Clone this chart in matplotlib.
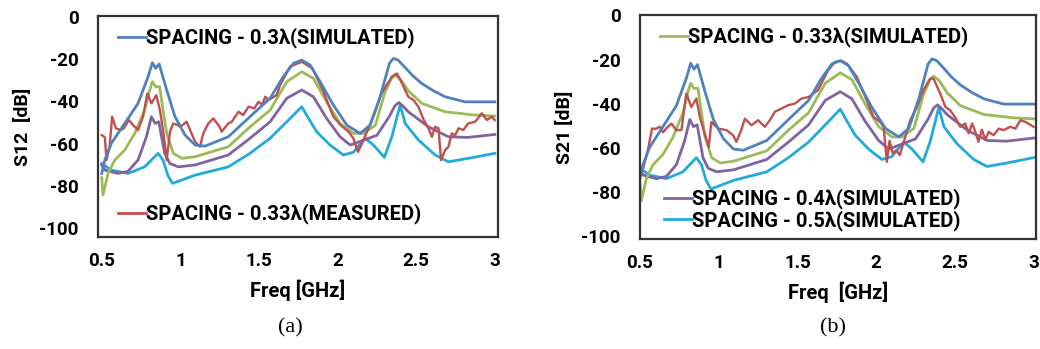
import numpy as np
import matplotlib.pyplot as plt
from matplotlib.lines import Line2D

plt.rcParams['font.family'] = ['Roboto', 'DejaVu Sans']
plt.rcParams['font.weight'] = 'bold'
plt.rcParams['axes.unicode_minus'] = False

# simulated curves (same in both panels)
f_03 = [0.50, 0.519, 0.561, 0.646, 0.731, 0.795, 0.822, 0.843, 0.865, 0.913, 0.966, 1.03, 1.094, 1.157,
        1.305, 1.443, 1.571, 1.655, 1.719, 1.772, 1.825, 1.889, 1.973, 2.059, 2.143, 2.207, 2.27, 2.33,
        2.355, 2.385, 2.43, 2.48, 2.535, 2.61, 2.684, 2.81, 3.0]
s_03 = [-74, -67.7, -59.8, -50.4, -40.9, -28.3, -21.7, -24.4, -22.3, -34.6, -47.2, -55.9, -60.6, -61.1,
        -56.7, -47.2, -38.5, -28.3, -22, -20.5, -22.8, -30.7, -41.7, -51.2, -55.1, -51.2, -38, -22,
        -19.7, -20.5, -24, -28, -31.5, -35, -37.8, -40.2, -40.2]

f_033 = [0.50, 0.508, 0.54, 0.583, 0.646, 0.71, 0.773, 0.805, 0.822, 0.843, 0.868, 0.89, 0.913, 0.955,
         1.01, 1.094, 1.305, 1.443, 1.571, 1.677, 1.772, 1.846, 1.93, 2.016, 2.10, 2.165, 2.24, 2.30,
         2.34, 2.365, 2.40, 2.45, 2.535, 2.684, 2.87, 3.0]
s_033 = [-76, -84.2, -74, -67.7, -63, -55.1, -44.1, -34.6, -30.7, -33.1, -33, -44.1, -55, -64.5,
         -66.9, -66.1, -61.4, -52, -44.1, -30.7, -26, -29.1, -40.2, -50.4, -55.1, -55.1, -51.2, -36,
         -29.5, -27.5, -29.5, -35, -40.9, -44.9, -46.4, -46.9]

f_04 = [0.50, 0.52, 0.604, 0.667, 0.731, 0.784, 0.816, 0.84, 0.863, 0.90, 0.933, 0.987, 1.094, 1.305,
        1.443, 1.571, 1.677, 1.772, 1.846, 1.93, 2.016, 2.08, 2.165, 2.25, 2.33, 2.365, 2.39, 2.42,
        2.45, 2.578, 2.705, 2.83, 3.0]
s_04 = [-70, -72.4, -74, -73, -67.7, -56.7, -47.2, -50.4, -49.6, -64.5, -69.3, -70.9, -70, -65.3,
        -57.4, -49.6, -38.5, -34.6, -37.8, -48, -56.7, -60.6, -58.3, -56, -47, -42, -40.5, -42.5,
        -44.9, -52, -56.7, -57, -55.6]

f_05 = [0.50, 0.561, 0.667, 0.773, 0.858, 0.89, 0.92, 0.95, 1.01, 1.094, 1.305, 1.443, 1.571, 1.677,
        1.772, 1.815, 1.867, 1.952, 2.037, 2.10, 2.175, 2.228, 2.298, 2.345, 2.398, 2.43, 2.514, 2.62,
        2.705, 2.83, 3.0]
s_05 = [-69.3, -72.4, -74, -70.9, -64.5, -67.7, -74.8, -78.7, -77.1, -74.8, -70.9, -64.5, -57.4, -49.6,
        -42.5, -48, -54.3, -60.6, -65.3, -64, -57.4, -60.6, -66.4, -56.7, -41.7, -50.4, -58.2, -65.3,
        -68.5, -66.9, -64.5]

# measured 0.33 lambda, S12
f_meas_a = [0.50, 0.52, 0.53, 0.55, 0.566, 0.59, 0.62, 0.64, 0.672, 0.70, 0.731, 0.763, 0.79, 0.816,
            0.847, 0.87, 0.89, 0.913, 0.934, 0.955, 0.977, 1.0, 1.04, 1.062, 1.08, 1.094, 1.125, 1.146,
            1.178, 1.21, 1.25, 1.263, 1.305, 1.327, 1.37, 1.40, 1.433, 1.47, 1.497, 1.52, 1.54, 1.56,
            1.613, 1.634, 1.698, 1.772, 1.84, 1.91, 1.973, 2.02, 2.07, 2.10, 2.13, 2.16, 2.218,
            2.28, 2.345, 2.377, 2.41, 2.45, 2.483, 2.514, 2.546, 2.578, 2.60, 2.62, 2.642, 2.658,
            2.684, 2.705, 2.726, 2.748, 2.77, 2.80, 2.83, 2.875, 2.917, 2.95, 2.98, 3.0]
s_meas_a = [-55.9, -57, -67.7, -61.4, -47.2, -52.7, -53.5, -52.8, -48.8, -51.2, -53.5, -47.2, -36.2, -40.9,
            -37, -44.1, -53.5, -67.7, -54.3, -50.4, -51, -52, -49.6, -53.5, -56.7, -59, -61.4, -55.1,
            -50.4, -48, -52, -54.3, -50.4, -49.6, -44.9, -46.4, -42.5, -43.3, -40.2, -41.7, -37.8, -39.4,
            -37, -32.3, -23.6, -21.3, -24.4, -35.4, -47.2, -51.2, -54.3, -57.4, -63.8, -59, -48.8,
            -36.2, -28.3, -26.8, -31.5, -37.8, -39.4, -42.5, -48.4, -52.7, -56.7, -52, -52.7, -67.7,
            -63, -61.4, -55.1, -55.9, -52.7, -53.5, -50.4, -49.6, -45.6, -48.8, -47.2, -48.8]

# measured 0.33 lambda, S21
f_meas_b = [0.50, 0.52, 0.55, 0.576, 0.60, 0.625, 0.646, 0.667, 0.70, 0.73, 0.763, 0.794, 0.826, 0.858,
            0.88, 0.91, 0.937, 0.953, 0.996, 1.049, 1.091, 1.112, 1.143, 1.166, 1.208, 1.25, 1.293, 1.325,
            1.356, 1.40, 1.44, 1.483, 1.525, 1.57, 1.63, 1.695, 1.738, 1.78, 1.814, 1.878, 1.94, 1.983,
            2.026, 2.047, 2.068, 2.085, 2.106, 2.127, 2.15, 2.185, 2.216, 2.26, 2.30, 2.343, 2.364, 2.407,
            2.44, 2.47, 2.50, 2.534, 2.566, 2.587, 2.61, 2.63, 2.65, 2.672, 2.693, 2.715, 2.746, 2.78,
            2.81, 2.852, 2.885, 2.916, 2.95, 3.0]
s_meas_b = [-70, -69.4, -61, -51.3, -51.4, -50.5, -53, -51.2, -49, -52, -52, -35.4, -41.5, -37.7,
            -46, -53.5, -59.6, -48.3, -51.3, -52, -54.3, -57.3, -52, -46.8, -49.8, -47.5, -50.5, -47.5,
            -43.7, -42.2, -40.7, -40, -37.7, -37, -33.9, -24.9, -21.1, -20.5, -21.9, -27.9, -38.5, -46,
            -48.3, -50.5, -66.4, -56.8, -62.6, -61.1, -63.3, -55.1, -47.5, -41.5, -33.9, -28.6, -28.6, -35.4,
            -41.5, -43, -46, -50.5, -49, -53.5, -49, -52.8, -57.3, -51.8, -56.3, -52.8, -54.3, -51.3,
            -52, -50.5, -51.3, -47.5, -48.3, -50.5]

c_03 = '#4F81BD'
c_meas = '#C0504D'
c_033 = '#9BBB59'
c_04 = '#8064A2'
c_05 = '#22AADC'
frame_col = '#333333'
lw = 2.0

fig = plt.figure(figsize=(10.4, 3.49), dpi=100)
ax1 = fig.add_axes([0.0942, 0.321, 0.3846, 0.633])
ax2 = fig.add_axes([0.6154, 0.315, 0.381, 0.642])

panels = [(ax1, f_meas_a, s_meas_a, 'S12  [dB]', 'Freq [GHz]', (-104, 0.3), (0.476, 3.02)),
          (ax2, f_meas_b, s_meas_b, 'S21 [dB]', 'Freq  [GHz]', (-101.4, 0.2), (0.5, 3.017))]

for ax, fm, sm, ylab, xlab, ylim, xlim in panels:
    ax.plot(f_05, s_05, color=c_05, lw=lw)
    ax.plot(f_04, s_04, color=c_04, lw=lw)
    ax.plot(f_033, s_033, color=c_033, lw=lw)
    ax.plot(fm, sm, color=c_meas, lw=1.7)
    ax.plot(f_03, s_03, color=c_03, lw=lw)
    ax.set_xlim(*xlim)
    ax.set_ylim(*ylim)
    ax.set_xticks([0.5, 1, 1.5, 2, 2.5, 3])
    ax.set_xticklabels(['0.5', '1', '1.5', '2', '2.5', '3'])
    ax.set_yticks([0, -20, -40, -60, -80, -100])
    ax.tick_params(length=0, labelsize=13.5, pad=14)
    ax.tick_params(axis='x', pad=11)
    for sp in ax.spines.values():
        sp.set_color(frame_col)
        sp.set_linewidth(1.6)
    ax.set_ylabel(ylab, fontsize=14, fontweight='bold', labelpad=5)
    ax.set_xlabel(xlab, fontsize=14.5, fontweight='bold', labelpad=7)


def handle(c):
    return Line2D([], [], color=c, lw=lw)


leg_kw = dict(frameon=False, handlelength=1.4, handletextpad=0.0, borderaxespad=0.0,
              prop={'size': 14.5, 'weight': 'bold'}, labelspacing=0.05)

lg = ax1.legend([handle(c_03)], ['SPACING - 0.3λ(SIMULATED)'], loc='upper left',
                bbox_to_anchor=(0.03, 0.985), **leg_kw)
ax1.add_artist(lg)
ax1.legend([handle(c_meas)], ['SPACING - 0.33λ(MEASURED)'], loc='lower left',
           bbox_to_anchor=(0.03, 0.02), **leg_kw)

lg = ax2.legend([handle(c_033)], ['SPACING - 0.33λ(SIMULATED)'], loc='upper left',
                bbox_to_anchor=(0.03, 0.985), **leg_kw)
ax2.add_artist(lg)
ax2.legend([handle(c_04), handle(c_05)], ['SPACING - 0.4λ(SIMULATED)', 'SPACING - 0.5λ(SIMULATED)'],
           loc='lower left', bbox_to_anchor=(0.04, 0.0), **leg_kw)

fig.text(0.279, 0.06, '(a)', ha='center', va='center', fontsize=16,
         family='Liberation Serif', fontweight='normal')
fig.text(0.801, 0.06, '(b)', ha='center', va='center', fontsize=16,
         family='Liberation Serif', fontweight='normal')

fig.savefig('out.png', dpi=100)
